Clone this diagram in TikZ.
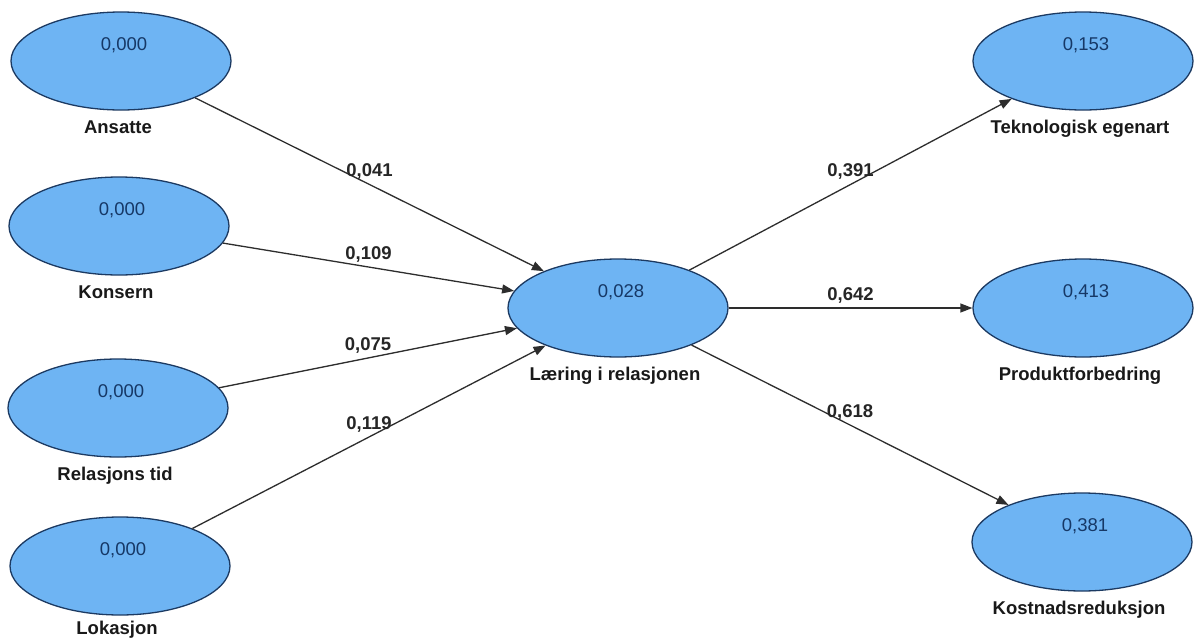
\documentclass[tikz,border=0pt]{standalone}
\usepackage{fontspec}
\setmainfont{Liberation Sans}
\usetikzlibrary{arrows.meta,shapes.geometric}
\definecolor{lvfill}{RGB}{110,180,243}
\definecolor{lvborder}{RGB}{28,58,98}
\definecolor{lvtext}{RGB}{22,56,102}
\definecolor{pathline}{RGB}{45,45,45}
\begin{document}
\begin{tikzpicture}[x=1pt,y=1pt,
  latent/.style={ellipse, draw=lvborder, fill=lvfill, line width=1.3pt,
    minimum width=220pt, minimum height=98pt, inner sep=0pt},
  rsq/.style={font=\fontsize{18.5}{20}\selectfont, text=lvtext,
    text height=0.75em, text depth=0.25em, inner sep=0pt, xshift=3pt, yshift=13pt},
  lvname/.style={font=\bfseries\fontsize{18.5}{20}\selectfont, text=black!90,
    text height=0.75em, text depth=0.25em, inner sep=2pt, xshift=-3pt, yshift=-13pt},
  pathedge/.style={draw=pathline, line width=1.3pt,
    -{Triangle[length=12pt,width=9pt]}},
  coef/.style={font=\bfseries\fontsize{18.5}{20}\selectfont, text=black!85,
    anchor=south, inner sep=2pt, yshift=2pt, pos=0.5}
]
\useasboundingbox (0,0) rectangle (1195,-643);
\fill[white] (0,0) rectangle (1195,-643);

% exogenous constructs
\node[latent, label={[rsq,name=ans-r]center:0,000},
  label={[lvname,name=ans-n]below:Ansatte}] (ans) at (121,-61) {};
\node[latent, label={[rsq,name=kon-r]center:0,000},
  label={[lvname,name=kon-n]below:Konsern}] (kon) at (119,-226) {};
\node[latent, label={[rsq,name=rel-r]center:0,000},
  label={[lvname,name=rel-n]below:Relasjons tid}] (rel) at (118,-408) {};
\node[latent, label={[rsq,name=lok-r]center:0,000},
  label={[lvname,name=lok-n,yshift=4pt]below:Lokasjon}] (lok) at (120,-566) {};

% mediator
\node[latent, label={[rsq,name=lar-r]center:0,028},
  label={[lvname,name=lar-n]below:Læring i relasjonen}] (lar) at (618,-308) {};

% outcomes
\node[latent, label={[rsq,name=tek-r]center:0,153},
  label={[lvname,name=tek-n]below:Teknologisk egenart}] (tek) at (1083,-61) {};
\node[latent, label={[rsq,name=pro-r]center:0,413},
  label={[lvname,name=pro-n]below:Produktforbedring}] (pro) at (1083,-308) {};
\node[latent, label={[rsq,name=kos-r]center:0,381},
  label={[lvname,name=kos-n]below:Kostnadsreduksjon}] (kos) at (1082,-542) {};

% path coefficients
\draw[pathedge] (ans) -- node[coef] (c-ans) {0,041} (lar);
\draw[pathedge] (kon) -- node[coef] (c-kon) {0,109} (lar);
\draw[pathedge] (rel) -- node[coef] (c-rel) {0,075} (lar);
\draw[pathedge] (lok) -- node[coef] (c-lok) {0,119} (lar);
\draw[pathedge] (lar) -- node[coef] (c-tek) {0,391} (tek);
\draw[pathedge] (lar) -- node[coef] (c-pro) {0,642} (pro);
\draw[pathedge] (lar) -- node[coef] (c-kos) {0,618} (kos);
\end{tikzpicture}
\end{document}
